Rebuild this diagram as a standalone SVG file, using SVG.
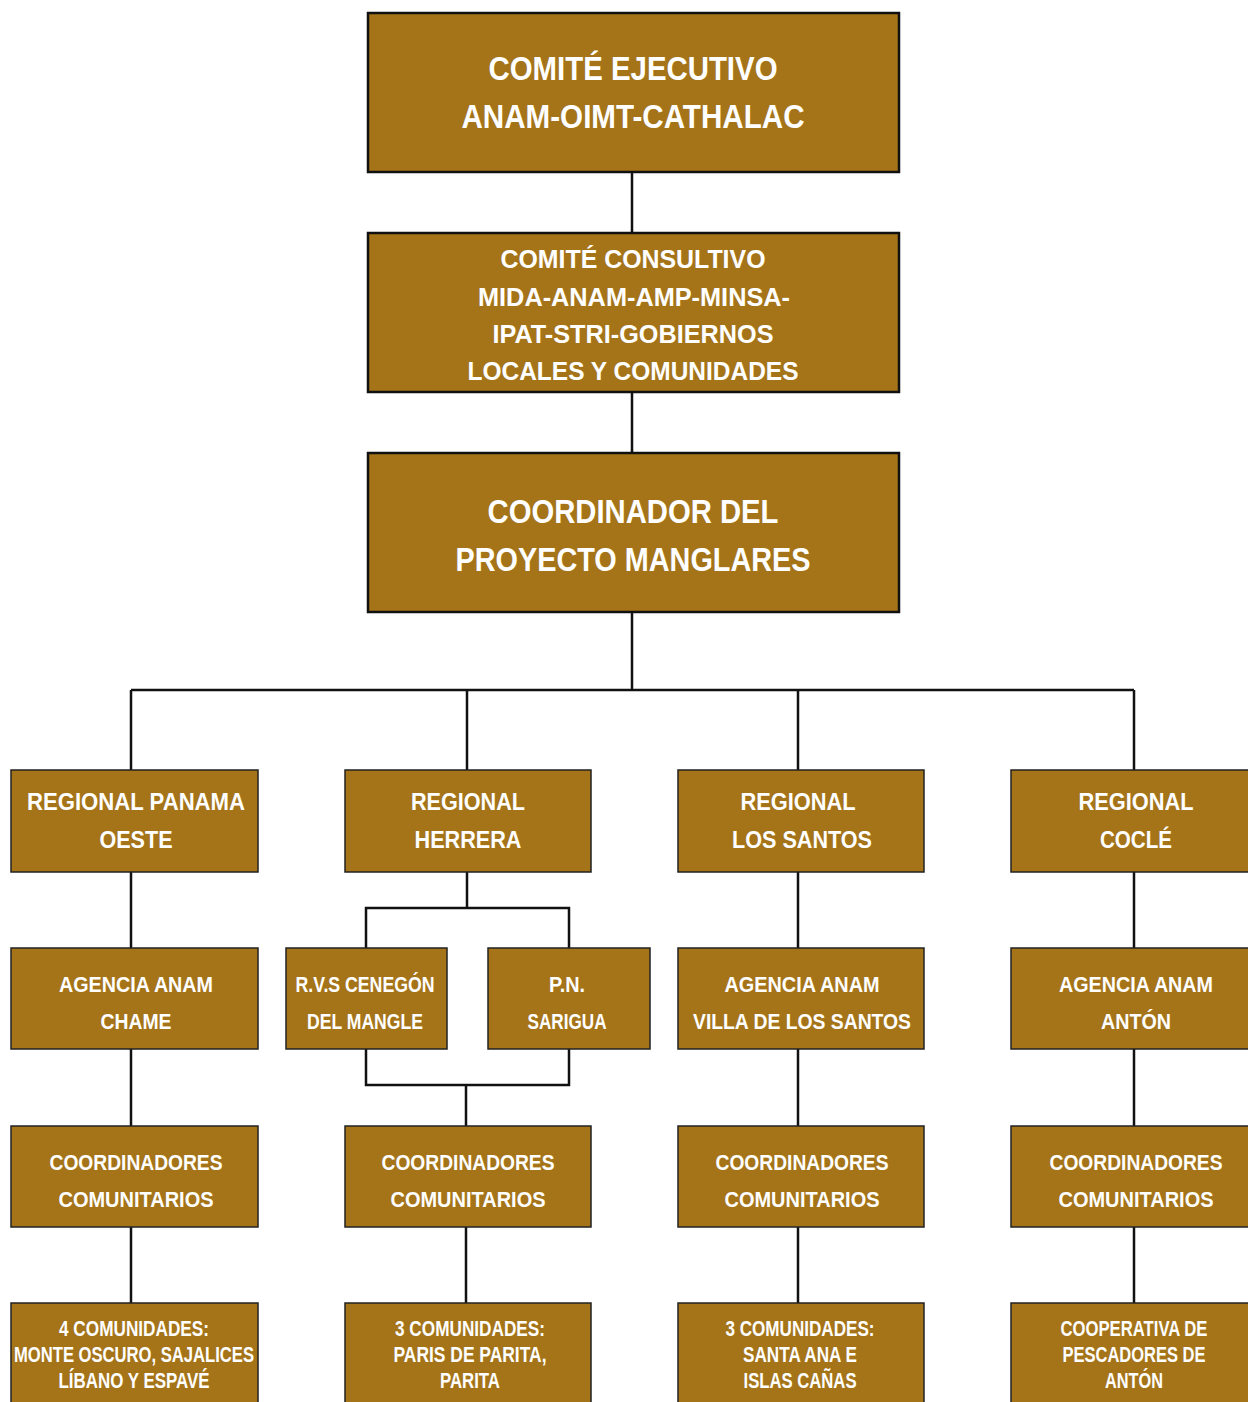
<svg xmlns="http://www.w3.org/2000/svg" width="1248" height="1402" viewBox="0 0 1248 1402">
<style>
.big{fill:#A57419;stroke:#111;stroke-width:2.5}
.box{fill:#A57419;stroke:#222;stroke-width:1.5}
.con{fill:none;stroke:#111;stroke-width:2.5}
text{font-family:"Liberation Sans Narrow","Liberation Sans",Arial,sans-serif;font-weight:bold;fill:#fff;text-anchor:middle}
.t1{font-size:33px}
.t2{font-size:26px}
.t3{font-size:24px}
.t4{font-size:22px}
.t5{font-size:22px}
</style>
<rect width="1248" height="1402" fill="#fff"/>
<g id="connectors">
<path class="con" d="M632 172V233M632 392V453M632 612V690M131 690H1134M131 690V770M467 690V770M798 690V770M1134 690V770"/>
<path class="con" d="M131 872V948M131 1049V1126M131 1227V1303"/>
<path class="con" d="M467 872V908M366 948V908H569V948M366 1049V1085H569V1049M466 1085V1126M466 1227V1303"/>
<path class="con" d="M798 872V948M798 1049V1126M798 1227V1303"/>
<path class="con" d="M1134 872V948M1134 1049V1126M1134 1227V1303"/>
</g>
<g id="comite-ejecutivo">
<rect class="big" x="368" y="13" width="531" height="159"/>
<text class="t1" x="633" y="80" textLength="289" lengthAdjust="spacingAndGlyphs">COMITÉ EJECUTIVO</text>
<text class="t1" x="633" y="128" textLength="343" lengthAdjust="spacingAndGlyphs">ANAM-OIMT-CATHALAC</text>
</g>
<g id="comite-consultivo">
<rect class="big" x="368" y="233" width="531" height="159"/>
<text class="t2" x="633" y="268" textLength="265" lengthAdjust="spacingAndGlyphs">COMITÉ CONSULTIVO</text>
<text class="t2" x="634" y="306" textLength="312" lengthAdjust="spacingAndGlyphs">MIDA-ANAM-AMP-MINSA-</text>
<text class="t2" x="633" y="343" textLength="281" lengthAdjust="spacingAndGlyphs">IPAT-STRI-GOBIERNOS</text>
<text class="t2" x="633" y="380" textLength="331" lengthAdjust="spacingAndGlyphs">LOCALES Y COMUNIDADES</text>
</g>
<g id="coordinador">
<rect class="big" x="368" y="453" width="531" height="159"/>
<text class="t1" x="633" y="523" textLength="291" lengthAdjust="spacingAndGlyphs">COORDINADOR DEL</text>
<text class="t1" x="633" y="571" textLength="355" lengthAdjust="spacingAndGlyphs">PROYECTO MANGLARES</text>
</g>
<g id="regional-panama">
<rect class="box" x="11" y="770" width="247" height="102"/>
<text class="t3" x="136" y="810" textLength="218" lengthAdjust="spacingAndGlyphs">REGIONAL PANAMA</text>
<text class="t3" x="136" y="848" textLength="73" lengthAdjust="spacingAndGlyphs">OESTE</text>
</g>
<g id="regional-herrera">
<rect class="box" x="345" y="770" width="246" height="102"/>
<text class="t3" x="468" y="810" textLength="114" lengthAdjust="spacingAndGlyphs">REGIONAL</text>
<text class="t3" x="468" y="848" textLength="107" lengthAdjust="spacingAndGlyphs">HERRERA</text>
</g>
<g id="regional-los-santos">
<rect class="box" x="678" y="770" width="246" height="102"/>
<text class="t3" x="798" y="810" textLength="115" lengthAdjust="spacingAndGlyphs">REGIONAL</text>
<text class="t3" x="802" y="848" textLength="140" lengthAdjust="spacingAndGlyphs">LOS SANTOS</text>
</g>
<g id="regional-cocle">
<rect class="box" x="1011" y="770" width="247" height="102"/>
<text class="t3" x="1136" y="810" textLength="115" lengthAdjust="spacingAndGlyphs">REGIONAL</text>
<text class="t3" x="1136" y="848" textLength="72" lengthAdjust="spacingAndGlyphs">COCLÉ</text>
</g>
<g id="agencia-chame">
<rect class="box" x="11" y="948" width="247" height="101"/>
<text class="t4" x="136" y="992" textLength="154" lengthAdjust="spacingAndGlyphs">AGENCIA ANAM</text>
<text class="t4" x="136" y="1029" textLength="71" lengthAdjust="spacingAndGlyphs">CHAME</text>
</g>
<g id="rvs-cenegon">
<rect class="box" x="286" y="948" width="161" height="101"/>
<text class="t4" x="365" y="992" textLength="139" lengthAdjust="spacingAndGlyphs">R.V.S CENEGÓN</text>
<text class="t4" x="365" y="1029" textLength="116" lengthAdjust="spacingAndGlyphs">DEL MANGLE</text>
</g>
<g id="pn-sarigua">
<rect class="box" x="488" y="948" width="162" height="101"/>
<text class="t4" x="567" y="992" textLength="36" lengthAdjust="spacingAndGlyphs">P.N.</text>
<text class="t4" x="567" y="1029" textLength="79" lengthAdjust="spacingAndGlyphs">SARIGUA</text>
</g>
<g id="agencia-villa">
<rect class="box" x="678" y="948" width="246" height="101"/>
<text class="t4" x="802" y="992" textLength="155" lengthAdjust="spacingAndGlyphs">AGENCIA ANAM</text>
<text class="t4" x="802" y="1029" textLength="218" lengthAdjust="spacingAndGlyphs">VILLA DE LOS SANTOS</text>
</g>
<g id="agencia-anton">
<rect class="box" x="1011" y="948" width="247" height="101"/>
<text class="t4" x="1136" y="992" textLength="154" lengthAdjust="spacingAndGlyphs">AGENCIA ANAM</text>
<text class="t4" x="1136" y="1029" textLength="70" lengthAdjust="spacingAndGlyphs">ANTÓN</text>
</g>
<g id="coord-panama">
<rect class="box" x="11" y="1126" width="247" height="101"/>
<text class="t4" x="136" y="1170" textLength="173" lengthAdjust="spacingAndGlyphs">COORDINADORES</text>
<text class="t4" x="136" y="1207" textLength="155" lengthAdjust="spacingAndGlyphs">COMUNITARIOS</text>
</g>
<g id="coord-herrera">
<rect class="box" x="345" y="1126" width="246" height="101"/>
<text class="t4" x="468" y="1170" textLength="173" lengthAdjust="spacingAndGlyphs">COORDINADORES</text>
<text class="t4" x="468" y="1207" textLength="155" lengthAdjust="spacingAndGlyphs">COMUNITARIOS</text>
</g>
<g id="coord-los-santos">
<rect class="box" x="678" y="1126" width="246" height="101"/>
<text class="t4" x="802" y="1170" textLength="173" lengthAdjust="spacingAndGlyphs">COORDINADORES</text>
<text class="t4" x="802" y="1207" textLength="155" lengthAdjust="spacingAndGlyphs">COMUNITARIOS</text>
</g>
<g id="coord-cocle">
<rect class="box" x="1011" y="1126" width="247" height="101"/>
<text class="t4" x="1136" y="1170" textLength="173" lengthAdjust="spacingAndGlyphs">COORDINADORES</text>
<text class="t4" x="1136" y="1207" textLength="155" lengthAdjust="spacingAndGlyphs">COMUNITARIOS</text>
</g>
<g id="comunidades-panama">
<rect class="box" x="11" y="1303" width="247" height="110"/>
<text class="t5" x="134" y="1336" textLength="150" lengthAdjust="spacingAndGlyphs">4 COMUNIDADES:</text>
<text class="t5" x="134" y="1362" textLength="240" lengthAdjust="spacingAndGlyphs">MONTE OSCURO, SAJALICES</text>
<text class="t5" x="134" y="1388" textLength="151" lengthAdjust="spacingAndGlyphs">LÍBANO Y ESPAVÉ</text>
</g>
<g id="comunidades-herrera">
<rect class="box" x="345" y="1303" width="246" height="110"/>
<text class="t5" x="470" y="1336" textLength="150" lengthAdjust="spacingAndGlyphs">3 COMUNIDADES:</text>
<text class="t5" x="470" y="1362" textLength="153" lengthAdjust="spacingAndGlyphs">PARIS DE PARITA,</text>
<text class="t5" x="470" y="1388" textLength="60" lengthAdjust="spacingAndGlyphs">PARITA</text>
</g>
<g id="comunidades-los-santos">
<rect class="box" x="678" y="1303" width="246" height="110"/>
<text class="t5" x="800" y="1336" textLength="149" lengthAdjust="spacingAndGlyphs">3 COMUNIDADES:</text>
<text class="t5" x="800" y="1362" textLength="114" lengthAdjust="spacingAndGlyphs">SANTA ANA E</text>
<text class="t5" x="800" y="1388" textLength="113" lengthAdjust="spacingAndGlyphs">ISLAS CAÑAS</text>
</g>
<g id="cooperativa-anton">
<rect class="box" x="1011" y="1303" width="247" height="110"/>
<text class="t5" x="1134" y="1336" textLength="147" lengthAdjust="spacingAndGlyphs">COOPERATIVA DE</text>
<text class="t5" x="1134" y="1362" textLength="143" lengthAdjust="spacingAndGlyphs">PESCADORES DE</text>
<text class="t5" x="1134" y="1388" textLength="58" lengthAdjust="spacingAndGlyphs">ANTÓN</text>
</g>
</svg>
